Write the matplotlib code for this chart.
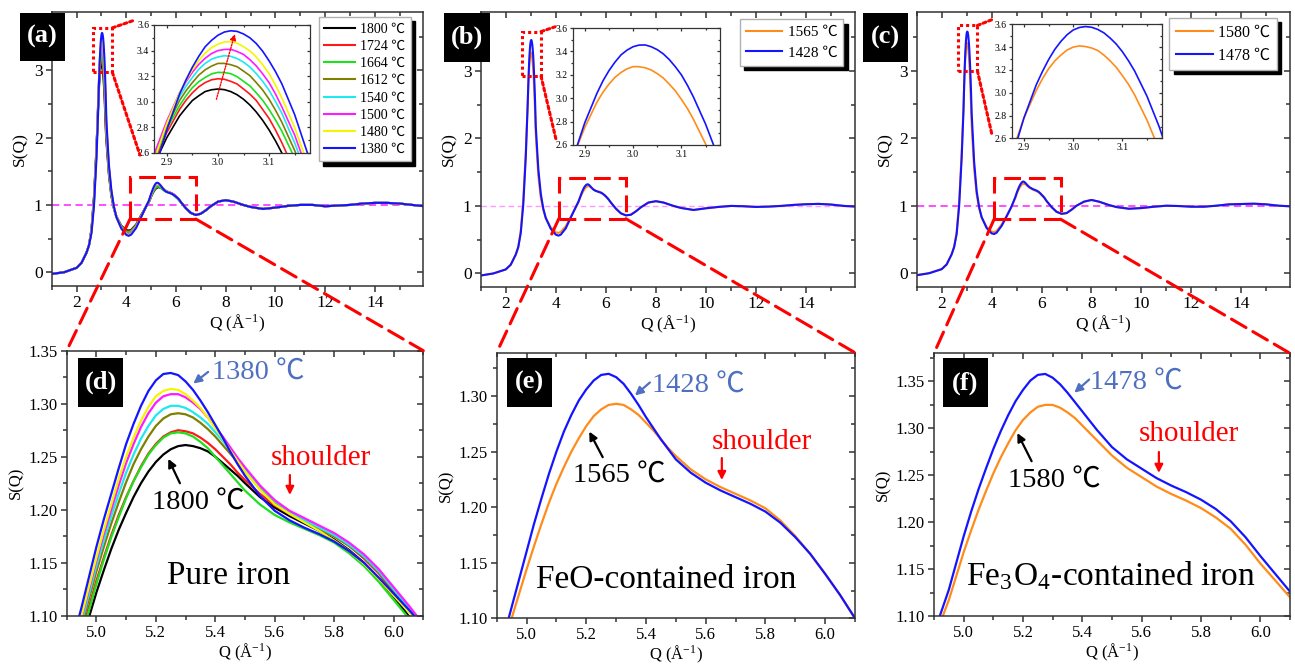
import numpy as np
import matplotlib
matplotlib.use('Agg')
import matplotlib.pyplot as plt
from matplotlib.patches import Rectangle, ConnectionPatch
from matplotlib.ticker import MultipleLocator, FormatStrFormatter

plt.rcParams['font.family'] = ['Liberation Serif', 'Noto Sans CJK SC']
plt.rcParams['mathtext.fontset'] = 'stix'

# ---------------- data ----------------
# Q grid pieces shared by every curve
q_low = [1.0, 1.5, 2.0, 2.2, 2.4, 2.5]
q_peak = [2.6, 2.7, 2.8, 2.875, 2.9, 2.925, 2.9375, 2.95, 2.9625, 2.975, 2.9875, 3.0,
          3.0125, 3.025, 3.0375, 3.05, 3.0625, 3.075, 3.0875, 3.1, 3.1125, 3.125,
          3.15, 3.175, 3.2]
q_mid = [3.3, 3.4, 3.5, 3.6, 3.8, 4.0, 4.1, 4.2, 4.4, 4.6, 4.8]
q_zoom = [4.9, 4.95, 5.0, 5.025, 5.05, 5.075, 5.1, 5.125, 5.15, 5.175, 5.2, 5.225,
          5.25, 5.275, 5.3, 5.325, 5.35, 5.375, 5.4, 5.425, 5.45, 5.475, 5.5,
          5.55, 5.6, 5.65, 5.7, 5.75, 5.8, 5.85, 5.9, 5.95, 6.0, 6.05, 6.1]
q_tail = [6.2, 6.4, 6.6, 6.8, 7.0, 7.2, 7.4, 7.7, 8.0, 8.3, 8.7, 9.0, 9.5,
          10.0, 10.5, 11.0, 11.5, 12.0, 12.5, 13.0, 13.5, 14.0, 14.5, 15.0,
          15.5, 16.0]

# pure iron, panels (a) and (d)
temps_a = ['1800', '1724', '1664', '1612', '1540', '1500', '1480', '1380']
low_a = [-0.025, 0.0, 0.065, 0.14, 0.29, 0.40]
peak_a = [
    [0.64, 1.12, 1.84, 2.51, 2.72, 2.89, 2.952, 3.01, 3.047, 3.08, 3.094, 3.10, 3.095,
     3.08, 3.055, 3.02, 2.975, 2.92, 2.855, 2.78, 2.695, 2.60, 2.38, 2.12, 1.95],
    [0.63, 1.10, 1.82, 2.53, 2.76, 2.94, 3.012, 3.07, 3.117, 3.15, 3.172, 3.18, 3.176,
     3.16, 3.139, 3.10, 3.060, 3.01, 2.940, 2.87, 2.780, 2.68, 2.46, 2.20, 2.00],
    [0.62, 1.08, 1.80, 2.55, 2.79, 2.97, 3.046, 3.11, 3.157, 3.19, 3.218, 3.23, 3.228,
     3.22, 3.196, 3.16, 3.124, 3.07, 3.012, 2.94, 2.859, 2.77, 2.56, 2.30, 2.05],
    [0.62, 1.07, 1.80, 2.56, 2.81, 3.01, 3.086, 3.15, 3.208, 3.25, 3.279, 3.30, 3.300,
     3.29, 3.274, 3.24, 3.204, 3.15, 3.092, 3.02, 2.935, 2.84, 2.62, 2.36, 2.08],
    [0.61, 1.05, 1.79, 2.57, 2.83, 3.04, 3.122, 3.19, 3.254, 3.30, 3.333, 3.35, 3.360,
     3.355, 3.338, 3.31, 3.272, 3.22, 3.160, 3.09, 3.003, 2.91, 2.68, 2.41, 2.12],
    [0.61, 1.04, 1.78, 2.59, 2.85, 3.07, 3.156, 3.23, 3.292, 3.34, 3.377, 3.40, 3.409,
     3.41, 3.393, 3.37, 3.329, 3.28, 3.218, 3.15, 3.061, 2.96, 2.74, 2.46, 2.15],
    [0.60, 1.02, 1.74, 2.54, 2.83, 3.07, 3.168, 3.25, 3.323, 3.38, 3.423, 3.45, 3.4675,
     3.47, 3.458, 3.43, 3.398, 3.35, 3.289, 3.22, 3.130, 3.03, 2.80, 2.52, 2.20],
    [0.58, 0.98, 1.68, 2.45, 2.78, 3.06, 3.171, 3.27, 3.355, 3.43, 3.480, 3.52, 3.545,
     3.555, 3.550, 3.53, 3.500, 3.455, 3.395, 3.32, 3.236, 3.14, 2.90, 2.60, 2.25],
]
mid_a = [
    [1.45, 1.13, 0.95, 0.83, 0.69, 0.625, 0.62, 0.63, 0.71, 0.85, 0.975],
    [1.48, 1.15, 0.955, 0.83, 0.68, 0.61, 0.605, 0.62, 0.70, 0.84, 0.98],
    [1.50, 1.16, 0.96, 0.83, 0.675, 0.60, 0.595, 0.61, 0.695, 0.835, 0.975],
    [1.52, 1.17, 0.965, 0.83, 0.67, 0.59, 0.58, 0.60, 0.69, 0.83, 0.975],
    [1.54, 1.18, 0.97, 0.825, 0.665, 0.58, 0.57, 0.59, 0.68, 0.83, 0.978],
    [1.56, 1.19, 0.97, 0.825, 0.66, 0.57, 0.56, 0.58, 0.675, 0.825, 0.978],
    [1.58, 1.20, 0.975, 0.822, 0.655, 0.565, 0.55, 0.57, 0.67, 0.825, 0.98],
    [1.60, 1.22, 0.98, 0.82, 0.65, 0.555, 0.54, 0.56, 0.66, 0.82, 0.98],
]
zoom_a = [
    [1.035, 1.075, 1.122, 1.143, 1.163, 1.181, 1.197, 1.212, 1.225, 1.236, 1.245, 1.252,
     1.257, 1.260, 1.261, 1.260, 1.258, 1.255, 1.250, 1.244, 1.238, 1.232, 1.225,
     1.212, 1.202, 1.194, 1.187, 1.180, 1.172, 1.162, 1.150, 1.135, 1.118, 1.100, 1.082],
    [1.040, 1.084, 1.133, 1.155, 1.176, 1.195, 1.212, 1.227, 1.241, 1.253, 1.262, 1.269,
     1.273, 1.275, 1.274, 1.272, 1.268, 1.263, 1.257, 1.250, 1.243, 1.235, 1.228,
     1.215, 1.204, 1.196, 1.189, 1.182, 1.175, 1.166, 1.154, 1.140, 1.122, 1.105, 1.087],
    [1.035, 1.080, 1.130, 1.153, 1.174, 1.193, 1.211, 1.227, 1.240, 1.252, 1.261, 1.268,
     1.272, 1.273, 1.272, 1.269, 1.264, 1.258, 1.250, 1.242, 1.234, 1.226, 1.218,
     1.205, 1.195, 1.188, 1.182, 1.176, 1.169, 1.159, 1.147, 1.132, 1.115, 1.098, 1.080],
    [1.045, 1.090, 1.142, 1.165, 1.187, 1.207, 1.226, 1.243, 1.257, 1.269, 1.279, 1.286,
     1.290, 1.291, 1.290, 1.287, 1.282, 1.276, 1.269, 1.261, 1.253, 1.245, 1.236,
     1.220, 1.207, 1.197, 1.189, 1.182, 1.175, 1.166, 1.155, 1.141, 1.124, 1.107, 1.089],
    [1.048, 1.094, 1.147, 1.171, 1.194, 1.215, 1.235, 1.252, 1.267, 1.279, 1.289, 1.295,
     1.298, 1.298, 1.296, 1.292, 1.287, 1.281, 1.273, 1.265, 1.256, 1.247, 1.238,
     1.222, 1.208, 1.198, 1.190, 1.183, 1.176, 1.167, 1.156, 1.142, 1.125, 1.108, 1.090],
    [1.050, 1.098, 1.152, 1.177, 1.200, 1.223, 1.244, 1.262, 1.278, 1.291, 1.301, 1.307,
     1.309, 1.309, 1.306, 1.301, 1.295, 1.287, 1.278, 1.269, 1.259, 1.249, 1.240,
     1.223, 1.209, 1.199, 1.192, 1.185, 1.178, 1.169, 1.158, 1.144, 1.127, 1.110, 1.092],
    [1.052, 1.100, 1.155, 1.181, 1.205, 1.229, 1.250, 1.268, 1.284, 1.297, 1.307, 1.312,
     1.314, 1.313, 1.309, 1.303, 1.296, 1.287, 1.277, 1.267, 1.256, 1.246, 1.236,
     1.219, 1.205, 1.196, 1.188, 1.180, 1.171, 1.161, 1.149, 1.135, 1.119, 1.104, 1.088],
    [1.055, 1.108, 1.165, 1.191, 1.215, 1.239, 1.262, 1.281, 1.298, 1.312, 1.322, 1.328,
     1.329, 1.327, 1.321, 1.313, 1.303, 1.292, 1.280, 1.268, 1.255, 1.243, 1.232,
     1.213, 1.199, 1.190, 1.183, 1.177, 1.170, 1.161, 1.150, 1.136, 1.121, 1.106, 1.090],
]
tail_a = [1.04, 0.95, 0.88, 0.85, 0.87, 0.92, 0.98, 1.05, 1.07, 1.05, 1.0, 0.97, 0.94,
          0.96, 0.985, 1.0, 1.0, 0.98, 0.99, 1.0, 1.02, 1.03, 1.03, 1.02, 1.0, 0.98]

# FeO-contained iron, panels (b) and (e)
temps_b = ['1565', '1428']
low_b = [-0.03, 0.0, 0.06, 0.13, 0.28, 0.39]
peak_b = [
    [0.63, 1.08, 1.80, 2.49, 2.75, 2.965, 3.050, 3.12, 3.178, 3.22, 3.251, 3.27, 3.269,
     3.26, 3.241, 3.21, 3.173, 3.12, 3.063, 2.99, 2.912, 2.82, 2.61, 2.355, 2.06],
    [0.60, 1.02, 1.72, 2.48, 2.79, 3.04, 3.147, 3.235, 3.308, 3.37, 3.411, 3.44, 3.454,
     3.455, 3.440, 3.415, 3.379, 3.33, 3.269, 3.20, 3.111, 3.01, 2.78, 2.51, 2.18],
]
mid_b = [
    [1.45, 1.12, 0.94, 0.82, 0.68, 0.61, 0.60, 0.615, 0.70, 0.84, 0.98],
    [1.55, 1.18, 0.96, 0.82, 0.66, 0.575, 0.56, 0.575, 0.67, 0.83, 0.985],
]
zoom_b = [
    [1.050, 1.100, 1.144, 1.165, 1.185, 1.204, 1.221, 1.236, 1.250, 1.262, 1.273, 1.282,
     1.288, 1.292, 1.293, 1.292, 1.288, 1.283, 1.276, 1.269, 1.261, 1.253, 1.246,
     1.234, 1.225, 1.218, 1.212, 1.206, 1.199, 1.188, 1.174, 1.158, 1.140, 1.121, 1.100],
    [1.060, 1.110, 1.160, 1.185, 1.208, 1.230, 1.250, 1.268, 1.283, 1.296, 1.306, 1.314,
     1.319, 1.320, 1.317, 1.311, 1.302, 1.292, 1.281, 1.271, 1.261, 1.252, 1.243,
     1.231, 1.222, 1.215, 1.209, 1.203, 1.196, 1.186, 1.173, 1.158, 1.140, 1.121, 1.100],
]
tail_b = [1.05, 0.96, 0.89, 0.86, 0.87, 0.92, 0.98, 1.05, 1.07, 1.05, 1.0, 0.97, 0.94,
          0.965, 0.985, 1.0, 0.995, 0.985, 0.99, 1.0, 1.015, 1.025, 1.03, 1.02, 1.0, 0.99]

# Fe3O4-contained iron, panels (c) and (f)
temps_c = ['1580', '1478']
low_c = [-0.03, 0.0, 0.06, 0.13, 0.28, 0.39]
peak_c = [
    [0.61, 1.05, 1.78, 2.47, 2.78, 3.02, 3.122, 3.21, 3.278, 3.33, 3.374, 3.40, 3.410,
     3.405, 3.392, 3.37, 3.330, 3.28, 3.223, 3.15, 3.073, 2.98, 2.76, 2.50, 2.195],
    [0.58, 1.00, 1.70, 2.42, 2.78, 3.07, 3.186, 3.29, 3.379, 3.45, 3.508, 3.55, 3.572,
     3.58, 3.574, 3.555, 3.525, 3.48, 3.427, 3.36, 3.280, 3.19, 2.97, 2.70, 2.38],
]
mid_c = [
    [1.55, 1.17, 0.96, 0.83, 0.685, 0.615, 0.61, 0.625, 0.72, 0.85, 0.985],
    [1.65, 1.22, 0.98, 0.83, 0.67, 0.59, 0.58, 0.60, 0.70, 0.84, 0.99],
]
zoom_c = [
    [1.075, 1.117, 1.168, 1.191, 1.213, 1.233, 1.252, 1.269, 1.284, 1.298, 1.309, 1.317,
     1.323, 1.325, 1.325, 1.322, 1.317, 1.311, 1.303, 1.295, 1.287, 1.279, 1.271,
     1.258, 1.248, 1.238, 1.230, 1.223, 1.215, 1.205, 1.193, 1.176, 1.156, 1.138, 1.120],
    [1.082, 1.128, 1.185, 1.211, 1.235, 1.257, 1.278, 1.297, 1.314, 1.329, 1.341, 1.351,
     1.357, 1.358, 1.354, 1.347, 1.338, 1.328, 1.318, 1.308, 1.298, 1.289, 1.280,
     1.267, 1.257, 1.247, 1.239, 1.232, 1.224, 1.214, 1.201, 1.184, 1.164, 1.145, 1.126],
]
tail_c = [1.07, 0.98, 0.91, 0.88, 0.89, 0.94, 1.0, 1.06, 1.085, 1.06, 1.01, 0.98, 0.955,
          0.965, 0.985, 1.0, 0.995, 0.985, 0.985, 1.0, 1.02, 1.025, 1.03, 1.02, 1.0, 0.99]

# ---------------- styling ----------------
colors_a = ['#000000', '#ff1a1a', '#1ee01e', '#7f7f00', '#1ee8f0', '#ff1aff', '#f5f500', '#1414ff']
colors_2 = ['#ff8c1a', '#1414ff']
ann_blue = '#4f6fc0'
W, H = 1295, 666
q_all = np.array(q_low + q_peak + q_mid + q_zoom + q_tail)

fig = plt.figure(figsize=(W / 100, H / 100), dpi=100)


def add_ax(box):
    x0, y0, x1, y1 = box
    return fig.add_axes([x0 / W, 1 - y1 / H, (x1 - x0) / W, (y1 - y0) / H])


def frame(ax, xmaj, xmin, ymaj, ymin, size, xfmt, yfmt, tlen=4.0, lw=1.1):
    for s in ax.spines.values():
        s.set_linewidth(lw)
        s.set_color('#333333')
    ax.xaxis.set_major_locator(MultipleLocator(xmaj))
    ax.xaxis.set_minor_locator(MultipleLocator(xmin))
    ax.yaxis.set_major_locator(MultipleLocator(ymaj))
    ax.yaxis.set_minor_locator(MultipleLocator(ymin))
    ax.xaxis.set_major_formatter(FormatStrFormatter(xfmt))
    ax.yaxis.set_major_formatter(FormatStrFormatter(yfmt))
    ax.tick_params(which='both', direction='out', width=lw, color='#333333',
                   labelsize=size, pad=2)
    ax.tick_params(which='major', length=tlen)
    ax.tick_params(which='minor', length=tlen * 0.6)
    # mirrored ticks on top / right point inward
    top = ax.secondary_xaxis('top')
    top.xaxis.set_major_locator(MultipleLocator(xmaj))
    top.xaxis.set_minor_locator(MultipleLocator(xmin))
    right = ax.secondary_yaxis('right')
    right.yaxis.set_major_locator(MultipleLocator(ymaj))
    right.yaxis.set_minor_locator(MultipleLocator(ymin))
    for sec in (top, right):
        sec.tick_params(which='both', direction='in', width=lw, color='#333333',
                        labeltop=False, labelright=False)
        sec.tick_params(which='major', length=tlen)
        sec.tick_params(which='minor', length=tlen * 0.6)
        for s in sec.spines.values():
            s.set_visible(False)


def label_box(box, txt):
    x0, y0, x1, y1 = box
    fig.add_artist(Rectangle((x0 / W, 1 - y1 / H), (x1 - x0) / W, (y1 - y0) / H,
                             transform=fig.transFigure, fc='black', ec='none', zorder=20))
    fig.text((x0 + x1) / 2 / W, 1 - (y0 + y1) / 2 / H, txt, color='white', weight='bold',
             fontsize=19, ha='center', va='center', zorder=21)


panels = [
    dict(temps=temps_a, low=low_a, peak=peak_a, mid=mid_a, zoom=zoom_a, tail=tail_a,
         colors=colors_a, main=(51.7, 11.7, 423.3, 285.7), inset=(154, 25, 310, 153),
         bottom=(66.7, 350.7, 423.3, 615.7), ylim_bottom=(1.10, 1.35),
         leg_anchor=(0.966, 0.98), leg_size=10, leg_space=0.3, hl=2.2,
         box=(4.15, 0.79, 6.8, 1.41), dbox=(2.65, 2.97, 3.44, 3.63),
         dcon=((-0.12, 1.04), (-0.09, -0.016)), dash1=('#ff40ff', 1.3),
         tag_top=((20, 12.7, 65, 61), '(a)'), tag_bot=((77.7, 358.3, 123.3, 406.7), '(d)')),
    dict(temps=temps_b, low=low_b, peak=peak_b, mid=mid_b, zoom=zoom_b, tail=tail_b,
         colors=colors_2, main=(480.7, 12, 855, 287), inset=(572.7, 28, 720, 145),
         bottom=(496.7, 352.7, 855, 618.3), ylim_bottom=(1.10, 1.339),
         leg_anchor=(0.969, 0.973), leg_size=11, leg_space=0.45, hl=2.4,
         box=(4.12, 0.81, 6.8, 1.42), dbox=(2.65, 2.92, 3.41, 3.58),
         dcon=((-0.12, 1.01), (-0.11, 0.03)), dash1=('#ff99ff', 1.0),
         tag_top=((444, 12.7, 490, 61.7), '(b)'), tag_bot=((506.7, 358.3, 552.3, 407.3), '(e)')),
    dict(temps=temps_c, low=low_c, peak=peak_c, mid=mid_c, zoom=zoom_c, tail=tail_c,
         colors=colors_2, main=(916.7, 12, 1290, 286.7), inset=(1011.7, 24.3, 1161.7, 138.3),
         bottom=(934, 353.3, 1290, 616), ylim_bottom=(1.10, 1.38),
         leg_anchor=(0.964, 0.977), leg_size=11.5, leg_space=0.45, hl=2.3,
         box=(4.1, 0.80, 6.76, 1.41), dbox=(2.65, 3.0, 3.43, 3.67),
         dcon=((-0.133, 1.04), (-0.133, 0.04)), dash1=('#ff40ff', 1.3),
         tag_top=((863.3, 12.7, 908.3, 61.7), '(c)'), tag_bot=((942.7, 358.3, 988.3, 407.3), '(f)')),
]

red_dash = (0, (5.5, 2.6))
xlab = 'Q (Å$^{\\mathregular{-1}}$)'

for p in panels:
    curves = [np.array(p['low'] + pk + md + zm + p['tail'])
              for pk, md, zm in zip(p['peak'], p['mid'], p['zoom'])]

    # main panel
    ax = add_ax(p['main'])
    col, lw_d = p['dash1']
    ax.axhline(1.0, color=col, lw=lw_d, ls=(0, (4, 2.5)), zorder=1)
    lines = []
    for s, c, t in zip(curves, p['colors'], p['temps']):
        ln, = ax.plot(q_all, s, color=c, lw=1.5, label=t + ' ℃', zorder=2)
        lines.append(ln)
    ax.set_xlim(1, 15.95)
    ax.set_ylim(-0.2, 3.87)
    frame(ax, 2, 1, 1, 0.5, 12.5, '%d', '%d', tlen=4.5)
    ax.set_xlabel(xlab, fontsize=12.5, labelpad=1)
    ax.set_ylabel('S(Q)', fontsize=12.5, labelpad=4)
    x0, y0, x1, y1 = p['box']
    ax.add_patch(Rectangle((x0, y0), x1 - x0, y1 - y0, fill=False, ec='red', lw=2.2,
                           ls=red_dash, zorder=5))
    x0, y0, x1, y1 = p['dbox']
    ax.add_patch(Rectangle((x0, y0), x1 - x0, y1 - y0, fill=False, ec='red', lw=2.2,
                           ls=(0, (1, 1)), zorder=5))
    leg = ax.legend(handles=lines, loc='upper right', bbox_to_anchor=p['leg_anchor'],
                    borderaxespad=0, fontsize=p['leg_size'], labelspacing=p['leg_space'],
                    handlelength=p['hl'], handletextpad=0.35, borderpad=0.4,
                    fancybox=False, framealpha=1, edgecolor='#b0b0b0',
                    shadow={'color': 'black', 'alpha': 1, 'ox': 3, 'oy': -3})
    leg.get_frame().set_linewidth(1.0)

    # inset
    axi = add_ax(p['inset'])
    for s, c in zip(curves, p['colors']):
        axi.plot(q_all, s, color=c, lw=1.2)
    axi.set_xlim(2.875, 3.18)
    axi.set_ylim(2.6, 3.6)
    frame(axi, 0.1, 0.05, 0.2, 0.1, 7, '%.1f', '%.1f', tlen=2.5, lw=0.9)
    axi.tick_params(pad=1)
    for (fx, fy), yc in zip(p['dcon'], (y1, y0)):
        con = ConnectionPatch(xyA=(x1, yc), coordsA=ax.transData, xyB=(fx, fy),
                              coordsB=axi.transAxes, color='red', lw=2.2, ls=(0, (1, 1)),
                              zorder=10)
        fig.add_artist(con)

    # bottom zoomed panel
    axb = add_ax(p['bottom'])
    for s, c in zip(curves, p['colors']):
        axb.plot(q_all, s, color=c, lw=1.6)
    axb.set_xlim(4.9, 6.1)
    axb.set_ylim(*p['ylim_bottom'])
    frame(axb, 0.2, 0.1, 0.05, 0.025, 12, '%.1f', '%.2f', tlen=4.5)
    axb.set_xlabel(xlab, fontsize=12, labelpad=0)
    axb.set_ylabel('S(Q)', fontsize=12, labelpad=3)

    bx0, by0, bx1, by1 = p['box']
    for xa, xb in ((bx0, 0), (bx1, 1)):
        con = ConnectionPatch(xyA=(xa, by0), coordsA=ax.transData, xyB=(xb, 1),
                              coordsB=axb.transAxes, color='red', lw=2.2, ls=red_dash,
                              zorder=10)
        fig.add_artist(con)

    label_box(*p['tag_top'])
    label_box(*p['tag_bot'])
    p['axb'] = axb
    p['axi'] = axi

# inset arrow in (a)
panels[0]['axi'].annotate('', xy=(3.033, 3.53), xytext=(2.997, 3.02),
                          arrowprops=dict(arrowstyle='-|>', color='red', lw=1.0,
                                          ls=(0, (1, 1)), mutation_scale=9,
                                          shrinkA=0, shrinkB=0))


def arrow(ax, tail, tip, color):
    ax.annotate('', xy=tip, xytext=tail,
                arrowprops=dict(arrowstyle='-|>', color=color, lw=1.6,
                                mutation_scale=12, shrinkA=0, shrinkB=0))


big = 20.5
# (d)
axd = panels[0]['axb']
axd.text(5.388, 1.3287, '1380 ℃', color=ann_blue, fontsize=big, ha='left', va='center')
arrow(axd, (5.376, 1.330), (5.326, 1.319), ann_blue)
axd.text(5.343, 1.206, '1800 ℃', color='black', fontsize=big, ha='center', va='center')
arrow(axd, (5.281, 1.225), (5.242, 1.248), 'black')
axd.text(5.754, 1.2485, 'shoulder', color='red', fontsize=21, ha='center', va='center')
arrow(axd, (5.651, 1.2327), (5.651, 1.2139), 'red')
axd.text(5.444, 1.1376, 'Pure iron', color='black', fontsize=24, ha='center', va='center')

# (e)
axe = panels[1]['axb']
axe.text(5.419, 1.3086, '1428 ℃', color=ann_blue, fontsize=big, ha='left', va='center')
arrow(axe, (5.413, 1.3122), (5.363, 1.3005), ann_blue)
axe.text(5.310, 1.228, '1565 ℃', color='black', fontsize=big, ha='center', va='center')
arrow(axe, (5.255, 1.245), (5.210, 1.268), 'black')
axe.text(5.789, 1.2586, 'shoulder', color='red', fontsize=21, ha='center', va='center')
arrow(axe, (5.654, 1.2442), (5.654, 1.2244), 'red')
axe.text(5.469, 1.1345, 'FeO-contained iron', color='black', fontsize=24,
         ha='center', va='center')

# (f)
axf = panels[2]['axb']
axf.text(5.426, 1.3486, '1478 ℃', color=ann_blue, fontsize=big, ha='left', va='center')
arrow(axf, (5.423, 1.352), (5.373, 1.338), ann_blue)
axf.text(5.305, 1.2436, '1580 ℃', color='black', fontsize=big, ha='center', va='center')
arrow(axf, (5.229, 1.265), (5.181, 1.295), 'black')
axf.text(5.760, 1.2936, 'shoulder', color='red', fontsize=21, ha='center', va='center')
arrow(axf, (5.658, 1.2748), (5.658, 1.2525), 'red')
axf.text(5.497, 1.1426, 'Fe$_{\\mathregular{3}}$O$_{\\mathregular{4}}$-contained iron',
         color='black', fontsize=24, ha='center', va='center')

fig.savefig('out.png', dpi=100)
